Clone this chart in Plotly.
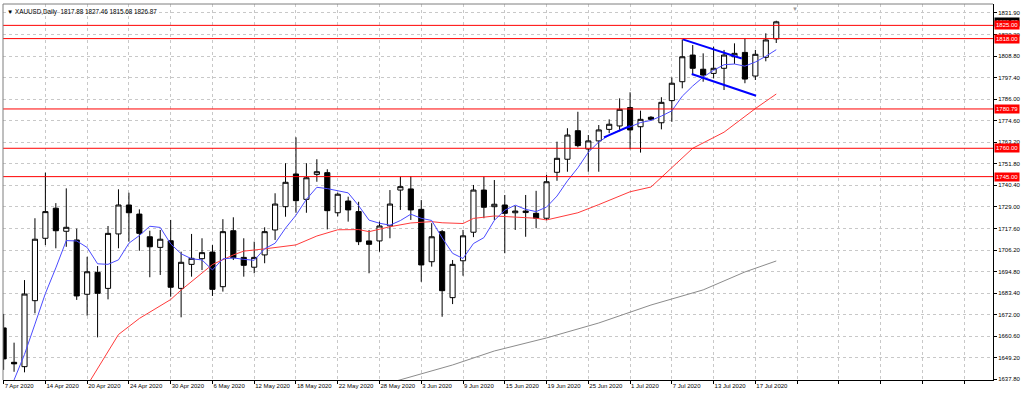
import plotly.graph_objects as go
import pandas as pd

# ---------------- data ----------------
bar_index = list(range(75))

opens = [1665.0, 1646.8, 1644.5, 1679.4, 1712.4, 1728.3, 1716.1, 1711.5, 1682.8, 1694.4,
         1685.9, 1714.7, 1730.0, 1725.2, 1713.2, 1707.6, 1711.1, 1685.9, 1698.6, 1701.6,
         1705.1, 1686.8, 1716.4, 1702.3, 1697.1, 1703.6, 1716.8, 1729.1, 1746.4, 1733.0,
         1746.2, 1747.1, 1725.9, 1732.1, 1726.5, 1711.0, 1711.0, 1719.0, 1737.9, 1738.5,
         1727.7, 1700.0, 1715.9, 1681.0, 1700.5, 1715.6, 1737.9, 1729.1, 1730.0, 1725.9,
         1726.0, 1725.6, 1723.0, 1747.3, 1754.2, 1769.3, 1759.6, 1763.9, 1770.0, 1771.8,
         1781.5, 1771.4, 1776.4, 1773.5, 1785.2, 1795.2, 1809.3, 1801.8, 1799.6, 1802.3,
         1808.4, 1810.7, 1798.2, 1808.1, 1817.88]
highs = [1672.4, 1657.2, 1690.3, 1723.0, 1747.1, 1731.0, 1738.8, 1717.5, 1702.6, 1697.7,
         1718.9, 1738.3, 1736.5, 1727.7, 1716.4, 1716.8, 1722.1, 1705.3, 1714.7, 1712.4,
         1708.8, 1722.5, 1723.5, 1712.4, 1710.6, 1718.2, 1736.2, 1752.1, 1765.8, 1752.1,
         1754.2, 1748.9, 1736.5, 1734.4, 1731.7, 1716.8, 1721.2, 1737.9, 1745.0, 1745.3,
         1732.6, 1720.4, 1716.8, 1700.9, 1716.8, 1740.6, 1745.0, 1743.2, 1735.3, 1729.5,
         1735.3, 1737.5, 1745.9, 1763.5, 1770.6, 1779.3, 1767.0, 1772.3, 1775.3, 1786.4,
         1789.6, 1779.9, 1777.0, 1787.0, 1797.5, 1817.6, 1814.6, 1810.2, 1813.7, 1812.0,
         1815.5, 1818.1, 1812.0, 1820.8, 1827.46]
lows = [1642.8, 1641.8, 1641.5, 1672.7, 1708.8, 1707.1, 1707.9, 1679.8, 1671.5, 1660.0,
        1680.1, 1707.1, 1710.6, 1705.8, 1691.8, 1693.0, 1681.5, 1670.6, 1692.1, 1695.6,
        1681.9, 1684.2, 1700.9, 1692.1, 1693.9, 1699.2, 1711.5, 1723.8, 1725.9, 1725.9,
        1742.3, 1717.1, 1724.0, 1721.2, 1708.8, 1693.9, 1705.3, 1712.4, 1727.4, 1722.1,
        1689.4, 1697.4, 1670.9, 1677.6, 1692.6, 1713.0, 1723.0, 1722.1, 1704.5, 1716.8,
        1713.2, 1717.7, 1722.0, 1742.8, 1747.6, 1760.5, 1747.6, 1747.6, 1768.0, 1769.0,
        1759.5, 1757.7, 1774.8, 1770.0, 1774.0, 1791.7, 1798.7, 1795.2, 1797.0, 1790.8,
        1804.6, 1794.4, 1796.1, 1806.0, 1815.68]
closes = [1648.6, 1646.0, 1682.9, 1711.9, 1726.5, 1716.4, 1718.2, 1681.9, 1694.7, 1683.3,
          1715.0, 1730.0, 1725.9, 1715.0, 1707.9, 1711.9, 1686.5, 1699.7, 1701.8, 1704.8,
          1685.4, 1715.9, 1702.1, 1698.1, 1702.3, 1715.9, 1730.5, 1742.0, 1732.3, 1744.4,
          1747.6, 1727.0, 1735.7, 1727.4, 1710.6, 1709.2, 1718.9, 1730.5, 1739.7, 1727.4,
          1698.3, 1713.2, 1684.7, 1698.6, 1713.7, 1737.9, 1728.8, 1730.4, 1725.6, 1726.8,
          1726.8, 1723.0, 1742.3, 1754.7, 1767.0, 1761.4, 1763.9, 1769.7, 1772.7, 1780.6,
          1769.7, 1775.3, 1775.3, 1784.3, 1794.4, 1808.4, 1802.3, 1798.7, 1802.3, 1809.3,
          1810.2, 1796.6, 1809.7, 1817.3, 1826.87]

tick_bars = list(range(0, 96, 4))
tick_dates = ["7 Apr 2020", "14 Apr 2020", "20 Apr 2020", "24 Apr 2020", "30 Apr 2020",
              "6 May 2020", "12 May 2020", "18 May 2020", "22 May 2020", "28 May 2020",
              "3 Jun 2020", "9 Jun 2020", "15 Jun 2020", "19 Jun 2020", "25 Jun 2020",
              "1 Jul 2020", "7 Jul 2020", "13 Jul 2020", "17 Jul 2020",
              "", "", "", "", "", ""]

price_ticks = [1637.80, 1649.20, 1660.60, 1672.00, 1683.40, 1694.80, 1706.20, 1717.60,
               1729.00, 1740.40, 1751.80, 1763.20, 1774.60, 1786.00, 1797.40, 1808.80,
               1820.20, 1831.60]
price_labels = ["1637.80", "1649.20", "1660.60", "1672.00", "1683.40", "1694.80", "1706.20",
                "1717.60", "1729.00", "1740.40", "1751.80", "1763.20", "1774.60", "1786.00",
                "1797.40", "1808.80", "1820.20", "1831.90"]

# fast moving average: first bars, rest from closes
blue_ma_head = [None, 1637.5, 1651.0, 1667.0]

red_ma_bars = [8, 11, 13, 16, 17, 19, 20, 22, 23, 25, 26, 28, 30, 32, 34, 35, 37, 39, 41,
               42, 44, 45, 47, 49, 51, 52, 55, 57, 60, 62, 64, 66, 69, 72, 74]
red_ma_vals = [1634.5, 1661.5, 1670.0, 1680.0, 1685.0, 1694.0, 1698.5, 1703.6, 1705.6,
               1706.8, 1707.6, 1708.9, 1713.6, 1716.9, 1717.0, 1715.9, 1718.5, 1720.5,
               1721.2, 1720.6, 1720.2, 1722.9, 1724.2, 1723.5, 1723.0, 1722.1, 1725.9,
               1730.2, 1737.0, 1739.5, 1749.5, 1760.0, 1768.5, 1781.0, 1788.7]

gray_ma_bars = [37, 43, 47, 52, 57, 62, 67, 71, 74]
gray_ma_vals = [1636.0, 1645.4, 1652.8, 1659.7, 1667.6, 1677.1, 1685.1, 1694.6, 1700.4]

levels = [1825.00, 1818.00, 1780.79, 1760.00, 1745.00]
level_labels = ["1825.00", "1818.00", "1780.79", "1760.00", "1745.00"]
last_price = 1826.87

flag_upper_bars = [65.05, 70.7]
flag_upper_vals = [1817.6, 1807.5]
flag_lower_bars = [65.9, 72.07]
flag_lower_vals = [1799.3, 1787.8]
trend_bars = [57.5, 60.0]
trend_vals = [1765.8, 1771.8]

shift_marker_bar = 75.8

title_text = "XAUUSD,Daily  1817.88 1827.46 1815.68 1826.87"

# ---------------- figure ----------------
FONT = "Liberation Sans"
X_RANGE = [-0.06, 94.76]
Y_RANGE = [1637.45, 1836.3]

blue_ma = pd.Series(closes).rolling(5).mean().tolist()
for i, v in enumerate(blue_ma_head):
    blue_ma[i] = v

fig = go.Figure()

fig.add_trace(go.Scatter(x=gray_ma_bars, y=gray_ma_vals, mode="lines",
                         line=dict(color="#8c8c8c", width=1), hoverinfo="skip"))
fig.add_trace(go.Scatter(x=red_ma_bars, y=red_ma_vals, mode="lines",
                         line=dict(color="#ff3b3b", width=1), hoverinfo="skip"))
fig.add_trace(go.Scatter(x=bar_index, y=blue_ma, mode="lines",
                         line=dict(color="#4b4bff", width=1), hoverinfo="skip"))

fig.add_trace(go.Candlestick(
    x=bar_index, open=opens, high=highs, low=lows, close=closes,
    increasing=dict(line=dict(color="black", width=1), fillcolor="white"),
    decreasing=dict(line=dict(color="black", width=1), fillcolor="black"),
    whiskerwidth=0, hoverinfo="skip"))

for bx, by in [(flag_upper_bars, flag_upper_vals), (flag_lower_bars, flag_lower_vals),
               (trend_bars, trend_vals)]:
    fig.add_trace(go.Scatter(x=bx, y=by, mode="lines",
                             line=dict(color="#0000ff", width=2), hoverinfo="skip"))

for lv in levels:
    fig.add_shape(type="line", xref="paper", x0=0, x1=1, yref="y", y0=lv, y1=lv,
                  line=dict(color="#ff0000", width=1), layer="above")

# price labels on the right axis
fig.add_annotation(xref="paper", x=1.0, xanchor="left", yref="y", y=last_price,
                   text="1826.87", showarrow=False, bgcolor="#000000",
                   font=dict(family=FONT, size=6, color="white"), borderpad=1, xshift=1)
for lv, lab in zip(levels, level_labels):
    fig.add_annotation(xref="paper", x=1.0, xanchor="left", yref="y", y=lv,
                       text=lab, showarrow=False, bgcolor="#ff0000",
                       font=dict(family=FONT, size=6, color="white"), borderpad=1, xshift=1)

fig.add_annotation(xref="paper", x=0.002, xanchor="left", yref="paper", y=0.995,
                   yanchor="top", text="\u25bc " + title_text, showarrow=False,
                   font=dict(family=FONT, size=6.3, color="black"))

# chart-shift marker at the top
fig.add_annotation(xref="x", x=shift_marker_bar, xanchor="center", yref="paper", y=1.0,
                   yanchor="top", text="\u25bc", showarrow=False,
                   font=dict(family=FONT, size=6, color="#9a9a9a"))

# frame (left/top)
fig.add_shape(type="line", xref="paper", yref="paper", x0=0, x1=0, y0=0, y1=1,
              line=dict(color="#7f7f7f", width=1))
fig.add_shape(type="line", xref="paper", yref="paper", x0=0, x1=1, y0=1, y1=1,
              line=dict(color="#7f7f7f", width=1))

fig.update_layout(
    width=1024, height=393,
    margin=dict(l=3, r=31, t=4, b=13, autoexpand=False),
    paper_bgcolor="white", plot_bgcolor="white",
    showlegend=False,
    font=dict(family=FONT, size=6, color="black"),
    xaxis=dict(range=X_RANGE, tickmode="array", tickvals=tick_bars, ticktext=tick_dates,
               tickangle=0, automargin=False,
               showgrid=True, gridcolor="#c8c8c8", griddash="dot", gridwidth=1,
               zeroline=False, showline=True, linecolor="black", linewidth=1,
               ticks="outside", ticklen=3, tickcolor="black",
               ticklabelposition="outside right",
               tickfont=dict(family=FONT, size=6, color="black"),
               rangeslider=dict(visible=False), fixedrange=True),
    yaxis=dict(range=Y_RANGE, side="right", tickmode="array", tickvals=price_ticks,
               ticktext=price_labels, automargin=False,
               showgrid=True, gridcolor="#c8c8c8", griddash="dot", gridwidth=1,
               zeroline=False, showline=True, linecolor="black", linewidth=1,
               ticks="outside", ticklen=3, tickcolor="black",
               tickfont=dict(family=FONT, size=6, color="black"), fixedrange=True),
)

fig.write_html("out.html", config={"displayModeBar": False},
               post_script="document.body.style.margin='0';document.body.style.padding='0';")
